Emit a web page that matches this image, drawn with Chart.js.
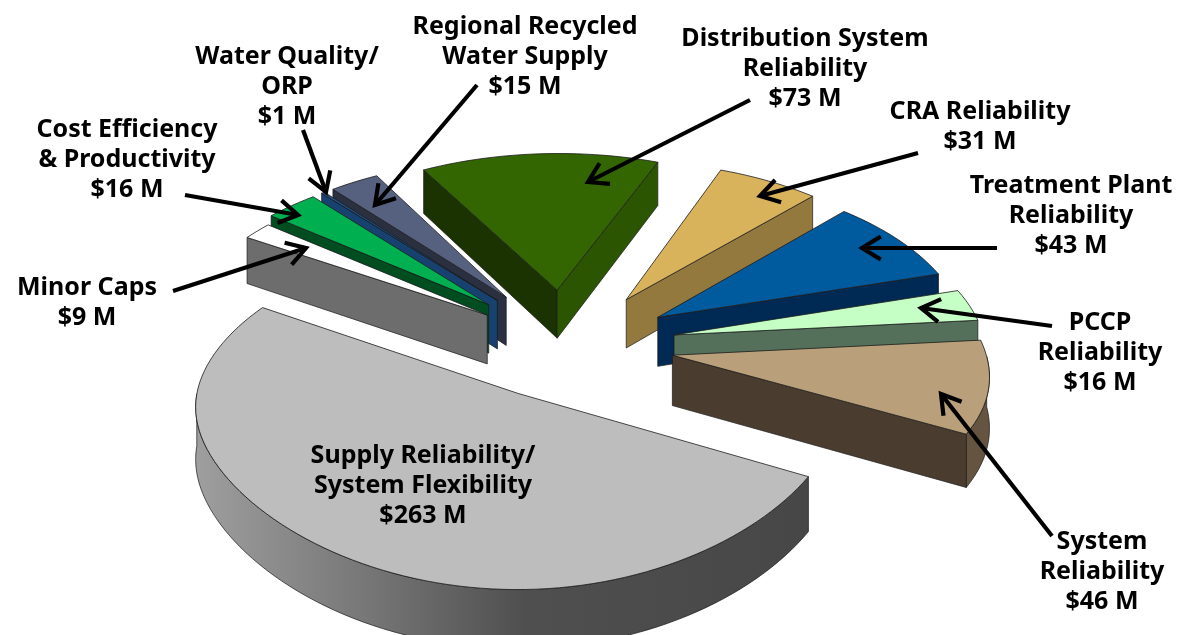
<!DOCTYPE html>
<html><head><meta charset="utf-8">
<style>html,body{margin:0;padding:0;background:#fff;overflow:hidden}canvas{display:block;filter:blur(.45px)}</style>
<script src="https://cdn.jsdelivr.net/npm/chart.js@4"></script></head>
<body><canvas id="c" width="1183" height="635"></canvas>
<script>
const categories=[["Supply Reliability/","System Flexibility"],["Minor Caps"],["Cost Efficiency","& Productivity"],["Water Quality/","ORP"],["Regional Recycled","Water Supply"],["Distribution System","Reliability"],["CRA Reliability"],["Treatment Plant","Reliability"],["PCCP","Reliability"],["System","Reliability"]];
const values=[263,9,16,1,15,73,31,43,16,46];
const topColors=["#bdbdbd","#ffffff","#00b050","#1f5288","#56617f","#336600","#d9b35c","#005a9e","#c6ffc6","#b9a07a"];
const radialStartColors=["#4f4f4f","#6d6d6d","#004d20","#17416f","#2b3040","#1a3300","#94793f","#002a54","#54705a","#4a3d2f"];
const rimColors=["#6a6a6a","#7a7a7a","#005c28","#17416f","#2b3040","#264d00","#94793f","#002a54","#54705a","#645440"];
const radialEndColors=["#4f4f4f","#6d6d6d","#004d20","#17416f","#2b3040","#2b5500","#94793f","#002a54","#54705a","#4a3d2f"];
const explodeAmount=[0.33,0.33,0.37,0.37,0.37,0.35,0.34,0.33,0.33,0.33];
const sliceNudgeX=[0,0,0,0,0,-0.018,0.004,0.006,0.012,0.002];
const labelAnchors=[[423,456],[87,288],[127,130],[287,57],[525,27],[805,39],[980,112],[1071,186],[1100,323],[1102,542]];
const arrows=[null,[173,291,306,248],[185,195,298,215],[303,130,326,192],[477,85,375,205],[750,100,588,182],[918,153,760,196],[997,248,862,248],[1052,326,921,308],[1052,536,941,394]];
const startDeg=27;
const view={cx:570,cy:345,A:312,kx:0.12,capX:327,soft:0.2,B:163,ky:0.11,T:50};
function proj(u,v,z){
 const a=view.A/(1-view.kx*v),p=view.soft;
 const sx=-Math.log(Math.exp(-p*a)+Math.exp(-p*view.capX))/p;
 return [view.cx+sx*u, view.cy+view.B*v/(1-view.ky*v)+(z?view.T/(1-view.kx*v):0)];
}
function quad(ctx,list){ctx.beginPath();list.forEach((s,j)=>j?ctx.lineTo(...s):ctx.moveTo(...s));ctx.closePath();}
const pie3d={id:'pie3d',
 beforeDatasetDraw(){return false;},
 afterDatasetsDraw(chart){
  const ctx=chart.ctx,arcs=chart.getDatasetMeta(0).data;
  const order=arcs.map((a,i)=>{const p=a.getProps(['startAngle','endAngle'],true);return {i,s:p.startAngle,e:p.endAngle,m:(p.startAngle+p.endAngle)/2};}).sort((a,b)=>Math.sin(a.m)-Math.sin(b.m));
  const sideGrad=ctx.createLinearGradient(190,0,800,0);
  sideGrad.addColorStop(0,"#a0a0a0");sideGrad.addColorStop(.3,"#757575");sideGrad.addColorStop(.55,"#4f4f4f");sideGrad.addColorStop(1,"#474747");
  ctx.save();ctx.lineJoin='round';
  for(const o of order){
   const E=explodeAmount[o.i],ox=E*Math.cos(o.m)+sliceNudgeX[o.i],oy=E*Math.sin(o.m);
   const apex=[ox,oy],arc=[];const n=Math.max(2,Math.ceil((o.e-o.s)/(Math.PI/90)));
   for(let j=0;j<=n;j++){const a=o.s+(o.e-o.s)*j/n;arc.push([ox+Math.cos(a),oy+Math.sin(a),a]);}
   const wall=(a,b,col)=>{const t=[proj(a[0],a[1]),proj(b[0],b[1]),proj(b[0],b[1],1),proj(a[0],a[1],1)];quad(ctx,t);ctx.fillStyle=col;ctx.fill();ctx.strokeStyle="#1a1a1a";ctx.lineWidth=.7;ctx.stroke();};
   const vis=arc.filter(p=>Math.sin(p[2])>-0.02);
   if(vis.length>1){const poly=[...vis.map(p=>proj(p[0],p[1])),...vis.slice().reverse().map(p=>proj(p[0],p[1],1))];
    quad(ctx,poly);ctx.fillStyle=o.i===0?sideGrad:rimColors[o.i];ctx.fill();ctx.strokeStyle="#1a1a1a";ctx.lineWidth=.7;ctx.stroke();}
   if(Math.sin(o.s-Math.PI/2)>0)wall(apex,arc[0],radialStartColors[o.i]);
   if(Math.sin(o.e+Math.PI/2)>0)wall(apex,arc[arc.length-1],radialEndColors[o.i]);
   quad(ctx,[apex,...arc].map(p=>proj(p[0],p[1])));
   ctx.fillStyle=topColors[o.i];ctx.fill();ctx.strokeStyle="#1c1c1c";ctx.lineWidth=.8;ctx.stroke();
  }
  ctx.strokeStyle="#000";ctx.lineWidth=4.2;ctx.lineCap='butt';ctx.lineJoin='miter';
  for(const ar of arrows){if(!ar)continue;const [x0,y0,x1,y1]=ar,t=Math.atan2(y1-y0,x1-x0);
   ctx.beginPath();ctx.moveTo(x0,y0);ctx.lineTo(x1,y1);ctx.stroke();
   ctx.beginPath();ctx.moveTo(x1-22*Math.cos(t-.55),y1-22*Math.sin(t-.55));ctx.lineTo(x1,y1);ctx.lineTo(x1-22*Math.cos(t+.55),y1-22*Math.sin(t+.55));ctx.stroke();}
  ctx.fillStyle="#000";ctx.textAlign='center';ctx.textBaseline='middle';ctx.font='bold 25px "Noto Sans"';
  categories.forEach((lines,i)=>{const [x,y]=labelAnchors[i];const all=[...lines,"$"+values[i]+" M"];
   all.forEach((t,j)=>ctx.fillText(t,x,y+j*30));});
  ctx.restore();
 }};
new Chart(document.getElementById('c'),{type:'pie',
 data:{labels:categories.map(l=>l.join(' ')),datasets:[{data:values,backgroundColor:topColors,borderWidth:0}]},
 options:{responsive:false,animation:false,devicePixelRatio:1,rotation:startDeg+90,
  plugins:{legend:{display:false},tooltip:{enabled:false}}},
 plugins:[pie3d]});
</script></body></html>
